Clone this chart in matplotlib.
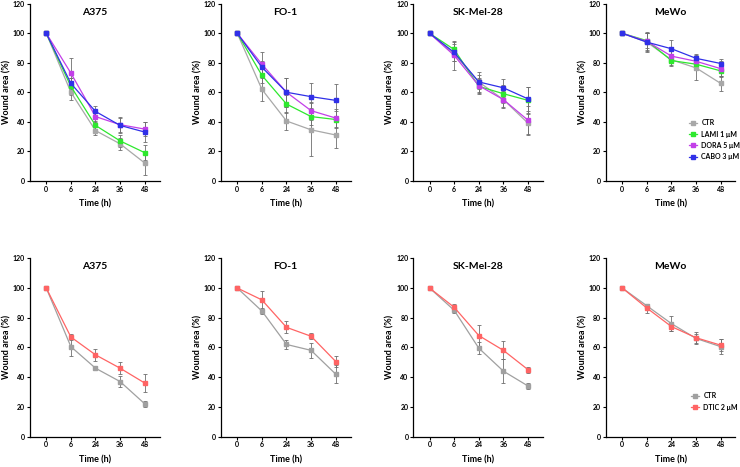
import matplotlib
matplotlib.use("Agg")
import matplotlib.pyplot as plt
from matplotlib.lines import Line2D

# ================================
# DATA
# ================================

TIME_LABELS = ["0", "6", "24", "36", "48"]
CELL_LINES = ["A375", "FO-1", "SK-Mel-28", "MeWo"]

# top row: targeted inhibitors, one list per cell line
CTR_TOP = [[100, 60, 34, 25, 12], [100, 62, 40.5, 34.5, 31],
           [100, 86, 67, 55, 39], [100, 94, 82, 76.5, 66]]
CTR_TOP_ERR = [[0, 5, 3, 4, 8], [0, 8, 6, 18, 9],
               [0, 5, 5, 5, 7], [0, 6, 4, 8, 5]]
LAMI = [[100, 64, 37.5, 27, 19], [100, 71.5, 52, 43.5, 41.5],
        [100, 89, 64, 59, 54.5], [100, 95, 81.5, 79, 74.5]]
LAMI_ERR = [[0, 6, 3, 4, 5], [0, 5, 6, 6, 6],
            [0, 5, 5, 6, 9], [0, 5, 3, 4, 4]]
DORA = [[100, 73, 43.5, 38, 35], [100, 79, 60, 47.5, 42.5],
        [100, 85, 64.5, 55, 41], [100, 94.5, 84.5, 81, 76]]
DORA_ERR = [[0, 10, 4, 5, 5], [0, 8, 10, 6, 6],
            [0, 10, 5, 6, 10], [0, 6, 4, 4, 5]]
CABO = [[100, 66, 47, 37.5, 33], [100, 77, 60, 57, 54.5],
        [100, 87, 67, 63, 55.5], [100, 94, 89.5, 83, 79.5]]
CABO_ERR = [[0, 4, 4, 5, 7], [0, 4, 10, 9, 11],
            [0, 6, 7, 6, 8], [0, 7, 6, 3, 3]]

# bottom row: dacarbazine
CTR_BOT = [[100, 60.5, 46, 37, 22], [100, 84.5, 62, 58, 42],
           [100, 85, 59.5, 44, 34], [100, 88, 76, 66, 60.5]]
CTR_BOT_ERR = [[0, 6, 1.5, 4, 2], [0, 2, 3, 5, 6],
               [0, 2, 4, 8, 2], [0, 1.5, 5, 3, 5]]
DTIC = [[100, 67, 55, 46, 36], [100, 92, 73.5, 67.5, 50.5],
        [100, 87, 68, 58, 45], [100, 86.5, 74, 66.5, 61.5]]
DTIC_ERR = [[0, 2, 4, 4, 6], [0, 6, 4, 2, 4],
            [0, 2, 7, 6, 2], [0, 3, 3, 4, 4]]

TOP_SERIES = [("CTR", CTR_TOP, CTR_TOP_ERR, "#a8a8a8"),
              ("LAMI 1 \u03bcM", LAMI, LAMI_ERR, "#2ee82e"),
              ("DORA 5 \u03bcM", DORA, DORA_ERR, "#c23fe8"),
              ("CABO 3 \u03bcM", CABO, CABO_ERR, "#3030e8")]
BOT_SERIES = [("CTR", CTR_BOT, CTR_BOT_ERR, "#a0a0a0"),
              ("DTIC 2 \u03bcM", DTIC, DTIC_ERR, "#ff6464")]

W, H = 740, 467
LEFTS = [30, 221, 413.3, 606]
AX_W = 129.5

plt.rcParams["font.family"] = ["Lato", "DejaVu Sans"]
plt.rcParams["font.weight"] = "bold"


# ================================
# HELPERS
# ================================

def add_panel(fig, left, top, bottom):
    ax = fig.add_axes([left / W, 1 - bottom / H, AX_W / W, (bottom - top) / H])
    ax.set_xlim(-0.66, 4.6)
    ax.set_ylim(0, 120)
    ax.set_yticks(range(0, 121, 20))
    ax.set_xticks(range(len(TIME_LABELS)))
    ax.set_xticklabels(TIME_LABELS)
    for side in ["top", "right"]:
        ax.spines[side].set_visible(False)
    for side in ["left", "bottom"]:
        ax.spines[side].set_linewidth(0.9)
    ax.tick_params(labelsize=5, length=2, width=0.8, pad=1.5)
    ax.set_xlabel("Time (h)", fontsize=6.5, fontweight="bold", labelpad=5)
    ax.set_ylabel("Wound area (%)", fontsize=6.5, fontweight="bold", labelpad=1)
    return ax


def draw_series(ax, values, errors, color):
    x = range(len(values))
    ax.errorbar(x, values, yerr=errors, fmt="none", ecolor="#6e6e6e",
                elinewidth=0.6, capsize=1.5, capthick=0.6, zorder=2)
    ax.plot(x, values, color=color, lw=0.9, marker="s", ms=2.2, zorder=3)


def draw_row(fig, series, top, bottom, title_y):
    axes = []
    for i, name in enumerate(CELL_LINES):
        ax = add_panel(fig, LEFTS[i], top, bottom)
        for label, vals, errs, color in series:
            draw_series(ax, vals[i], errs[i], color)
        ax.text(0.5, title_y, name, transform=ax.transAxes, ha="center",
                va="center", fontsize=7.5, fontweight="bold")
        axes.append(ax)
    return axes


# ================================
# FIGURE
# ================================

fig = plt.figure(figsize=(W / 100, H / 100), dpi=100)

top_axes = draw_row(fig, TOP_SERIES, 3.8, 180.7, 0.953)
bot_axes = draw_row(fig, BOT_SERIES, 258.3, 436.5, 0.953)

top_handles = [Line2D([], [], color=c, lw=0.9, marker="s", ms=2.2) for _, _, _, c in TOP_SERIES]
fig.legend(top_handles, [s[0] for s in TOP_SERIES], loc="upper left",
           bbox_to_anchor=(686 / W, 1 - 116 / H), frameon=False, fontsize=5,
           handlelength=1.1, handletextpad=0.6, labelspacing=0.6, borderpad=0)

bot_handles = [Line2D([], [], color=c, lw=0.9, marker="s", ms=2.2) for _, _, _, c in BOT_SERIES]
fig.legend(bot_handles, [s[0] for s in BOT_SERIES], loc="upper left",
           bbox_to_anchor=(688 / W, 1 - 389 / H), frameon=False, fontsize=5,
           handlelength=1.1, handletextpad=0.6, labelspacing=0.6, borderpad=0)

fig.savefig("out.png", dpi=100)
